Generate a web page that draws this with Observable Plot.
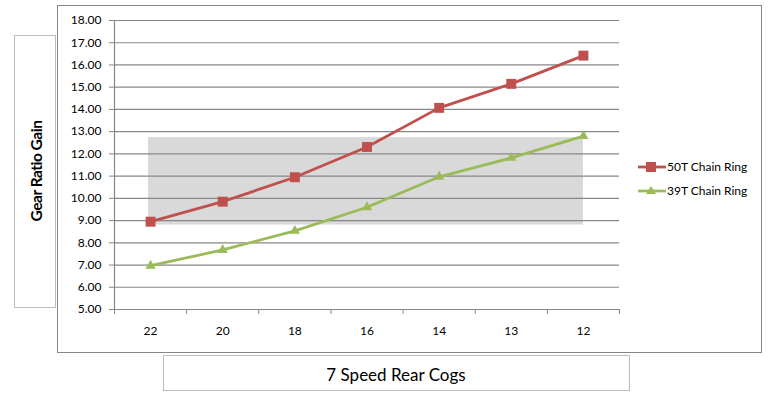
<!DOCTYPE html>
<html>
<head>
<meta charset="utf-8">
<script src="https://cdn.jsdelivr.net/npm/d3@7"></script>
<script src="https://cdn.jsdelivr.net/npm/@observablehq/plot@0.6"></script>
<style>
  html, body { margin: 0; padding: 0; background: #fff; }
  #wrap { position: relative; width: 770px; height: 397px; font-family: Lato, "Open Sans", sans-serif; }
  .box { position: absolute; box-sizing: border-box; }
  #outer { left: 57px; top: 5px; width: 705px; height: 348px; border: 1.5px solid #878787; }
  #ybox { left: 14px; top: 35px; width: 42px; height: 273px; border: 1px solid #bcbcbc; background: #fff; }
  #xbox { left: 163px; top: 355px; width: 467px; height: 36px; border: 1px solid #bcbcbc; background: #fff; }
  #ytitle { position: absolute; left: 36px; top: 171px; transform: translate(-50%, -50%) rotate(-90deg); font-size: 15.5px; font-weight: 700; letter-spacing: -0.5px; white-space: nowrap; color: #000; }
  #xtitle { position: absolute; left: 396px; top: 374px; transform: translate(-50%, -50%); font-size: 17px; white-space: nowrap; color: #000; }
  #chart { position: absolute; left: 0; top: 0; }
  #legend { position: absolute; left: 630px; top: 155px; }
</style>
</head>
<body>
<div id="wrap">
  <div id="outer" class="box"></div>
  <div id="chart"></div>
  <div id="ybox" class="box"></div>
  <div id="ytitle">Gear Ratio Gain</div>
  <div id="xbox" class="box"></div>
  <div id="xtitle">7 Speed Rear Cogs</div>
  <div id="legend"></div>
</div>
<script>
// Data
const cogs = ["22", "20", "18", "16", "14", "13", "12"];
const ring50 = [8.95, 9.85, 10.95, 12.31, 14.07, 15.15, 16.42];
const ring39 = [6.97, 7.68, 8.54, 9.60, 10.97, 11.82, 12.80];
const seriesNames = ["50T Chain Ring", "39T Chain Ring"];
const seriesColors = ["#C0504D", "#9BBB59"];
const yTicks = [5, 6, 7, 8, 9, 10, 11, 12, 13, 14, 15, 16, 17, 18];
const shadeX = [-0.03, 6.0];
const shadeY = [8.8, 12.73];

const idx = cogs.map((c, i) => i);
const boundaries = d3.range(-0.5, cogs.length, 1);
const d50 = cogs.map((c, i) => ({i, v: ring50[i]}));
const d39 = cogs.map((c, i) => ({i, v: ring39[i]}));

const chart = Plot.plot({
  width: 770,
  height: 397,
  marginLeft: 114,
  marginRight: 151,
  marginTop: 20,
  marginBottom: 88,
  style: {fontFamily: "Lato, 'Open Sans', sans-serif", fontSize: "12px", color: "#000", background: "transparent"},
  x: {type: "linear", domain: [-0.5, cogs.length - 0.5]},
  y: {domain: [5, 18]},
  marks: [
    Plot.rect([0], {x1: shadeX[0], x2: shadeX[1], y1: shadeY[0], y2: shadeY[1], fill: "#d9d9d9"}),
    Plot.ruleY(yTicks, {stroke: "#878787", strokeWidth: 1.2}),
    Plot.ruleX([-0.5], {stroke: "#878787", strokeWidth: 1.2}),
    Plot.axisY({ticks: yTicks, tickSize: 5, tickPadding: 8, tickFormat: d => d.toFixed(2), stroke: "#878787", fill: "#000", label: null}),
    Plot.axisX({ticks: boundaries, tickSize: 5, tickFormat: () => "", stroke: "#878787", label: null}),
    Plot.axisX({ticks: idx, tickSize: 0, tickPadding: 17, tickFormat: i => cogs[i], fill: "#000", label: null}),
    Plot.line(d50, {x: "i", y: "v", stroke: seriesColors[0], strokeWidth: 2.8}),
    Plot.line(d39, {x: "i", y: "v", stroke: seriesColors[1], strokeWidth: 2.8}),
    Plot.dot(d50, {x: "i", y: "v", symbol: "square", r: 5.6, fill: seriesColors[0], stroke: "none"}),
    Plot.dot(d39, {x: "i", y: "v", symbol: "triangle", r: 3.8, fill: seriesColors[1], stroke: "none"})
  ]
});
document.getElementById("chart").appendChild(chart);

// Legend
const lg = d3.select("#legend").append("svg").attr("width", 140).attr("height", 50)
  .style("font-family", "Lato, 'Open Sans', sans-serif").style("font-size", "12px");
seriesNames.forEach((name, k) => {
  const g = lg.append("g").attr("transform", `translate(0, ${12 + k * 24})`);
  g.append("line").attr("x1", 8).attr("x2", 36).attr("y1", 0).attr("y2", 0)
    .attr("stroke", seriesColors[k]).attr("stroke-width", 2.8);
  if (k === 0) {
    g.append("rect").attr("x", 16).attr("y", -5).attr("width", 10).attr("height", 10).attr("fill", seriesColors[k]);
  } else {
    g.append("path").attr("d", "M21,-5 L26,3 L16,3 Z").attr("fill", seriesColors[k]);
  }
  g.append("text").attr("x", 37).attr("y", 0).attr("dy", "0.35em").attr("fill", "#000").text(name);
});
</script>
</body>
</html>
